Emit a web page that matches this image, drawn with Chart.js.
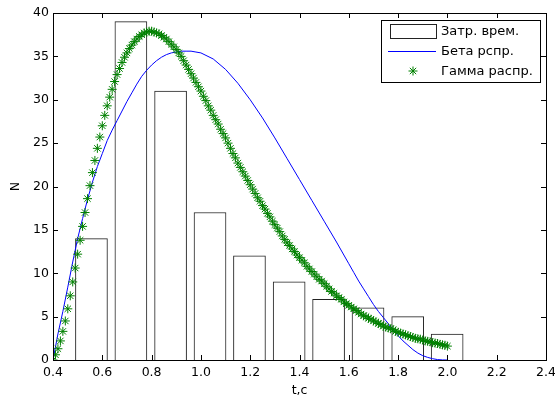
<!DOCTYPE html>
<html><head><meta charset="utf-8">
<style>html,body{margin:0;padding:0;background:#fff;}#c{display:block;}</style>
<script src="https://cdn.jsdelivr.net/npm/chart.js@4.4.1/dist/chart.umd.min.js"></script>
</head><body>
<canvas id="c" width="555" height="399"></canvas>
<script>
// ---- data ----
const binCenters = [0.556, 0.716, 0.877, 1.037, 1.197, 1.358, 1.518, 1.678, 1.839, 1.999];
const binCounts  = [14, 39, 31, 17, 12, 9, 7, 6, 5, 3];

const betaX = [0.40,0.42,0.44,0.46,0.48,0.50,0.52,0.54,0.56,0.58,0.60,0.62,0.64,0.66,0.68,0.70,0.72,0.74,0.76,0.78,
  0.80,0.82,0.84,0.86,0.88,0.90,0.92,0.94,0.96,0.98,1.00,1.05,1.10,1.15,1.20,1.25,1.30,1.35,1.40,1.45,
  1.50,1.55,1.60,1.62,1.64,1.66,1.68,1.70,1.72,1.74,1.76,1.78,1.80,1.82,1.84,1.86,1.88,1.90,1.92,1.94,1.96,1.98,2.00];
const betaY = [0,3.0,5.6,8.4,11.3,14.0,16.3,18.5,20.5,22.3,23.8,25.3,26.5,27.6,28.7,29.8,30.8,31.8,32.7,33.4,
  34.0,34.5,34.9,35.2,35.4,35.5,35.6,35.6,35.6,35.5,35.4,34.7,33.5,31.9,30.0,27.9,25.6,23.2,20.8,18.4,
  16.0,13.6,11.1,10.1,9.1,8.2,7.3,6.4,5.6,4.9,4.2,3.5,2.8,2.2,1.7,1.2,0.8,0.5,0.3,0.15,0.05,0.01,0];

const gammaX = [0.40,0.41,0.42,0.43,0.44,0.45,0.46,0.47,0.48,0.49,
  0.50,0.51,0.52,0.53,0.54,0.55,0.56,0.57,0.58,0.59,
  0.60,0.61,0.62,0.63,0.64,0.65,0.66,0.67,0.68,0.69,
  0.70,0.71,0.72,0.73,0.74,0.75,0.76,0.77,0.78,0.79,
  0.80,0.81,0.82,0.83,0.84,0.85,0.86,0.87,0.88,0.89,
  0.90,0.91,0.92,0.93,0.94,0.95,0.96,0.97,0.98,0.99,
  1.00,1.01,1.02,1.03,1.04,1.05,1.06,1.07,1.08,1.09,
  1.10,1.11,1.12,1.13,1.14,1.15,1.16,1.17,1.18,1.19,
  1.20,1.21,1.22,1.23,1.24,1.25,1.26,1.27,1.28,1.29,
  1.30,1.31,1.32,1.33,1.34,1.35,1.36,1.37,1.38,1.39,
  1.40,1.41,1.42,1.43,1.44,1.45,1.46,1.47,1.48,1.49,
  1.50,1.51,1.52,1.53,1.54,1.55,1.56,1.57,1.58,1.59,
  1.60,1.61,1.62,1.63,1.64,1.65,1.66,1.67,1.68,1.69,
  1.70,1.71,1.72,1.73,1.74,1.75,1.76,1.77,1.78,1.79,
  1.80,1.81,1.82,1.83,1.84,1.85,1.86,1.87,1.88,1.89,
  1.90,1.91,1.92,1.93,1.94,1.95,1.96,1.97,1.98,1.99,
  2.00];
const gammaY = [0.0,0.6,1.3,2.2,3.3,4.5,5.9,7.4,9.0,10.6,
  12.2,13.8,15.4,17.0,18.6,20.1,21.6,23.0,24.4,25.7,
  27.0,28.2,29.3,30.3,31.2,32.1,32.9,33.6,34.3,34.9,
  35.4,35.9,36.3,36.7,37.0,37.3,37.5,37.7,37.8,37.9,
  37.9,37.8,37.7,37.6,37.4,37.2,37.0,36.7,36.4,36.1,
  35.8,35.4,35.0,34.5,34.0,33.5,33.0,32.5,32.0,31.5,
  31.0,30.4,29.9,29.3,28.8,28.2,27.7,27.2,26.6,26.1,
  25.6,25.0,24.4,23.8,23.3,22.7,22.2,21.7,21.2,20.7,
  20.2,19.7,19.2,18.7,18.3,17.8,17.4,16.9,16.5,16.0,
  15.6,15.2,14.8,14.3,13.9,13.5,13.2,12.8,12.5,12.1,
  11.8,11.5,11.2,10.8,10.5,10.2,9.9,9.6,9.3,9.1,
  8.8,8.5,8.2,7.9,7.7,7.4,7.2,7.0,6.7,6.5,
  6.3,6.1,5.9,5.7,5.5,5.3,5.1,5.0,4.8,4.7,
  4.5,4.4,4.2,4.1,3.9,3.8,3.7,3.6,3.5,3.3,
  3.2,3.1,3.0,2.9,2.8,2.7,2.6,2.5,2.45,2.4,
  2.3,2.2,2.15,2.1,2.0,1.95,1.9,1.8,1.75,1.7,
  1.6];

const xTicks = [0.4, 0.6, 0.8, 1, 1.2, 1.4, 1.6, 1.8, 2, 2.2, 2.4];
const yTicks = [0, 5, 10, 15, 20, 25, 30, 35, 40];
const seriesLabels = ['Затр. врем.', 'Бета рспр.', 'Гамма распр.'];
const axisTitles = { x: 't,c', y: 'N' };

// ---- chart ----
const FAMILY = '"DejaVu Sans", Arial, sans-serif';
const FONT = { family: FAMILY, size: 12.5 };
const LEGEND_FONT = { family: FAMILY, size: 13 };
const STAR_R = 4.5;

function zip(xs, ys) { return xs.map((x, i) => ({ x: x, y: ys[i] })); }

function drawStar(ctx, x, y, r) {
  ctx.beginPath();
  ctx.moveTo(x - r, y); ctx.lineTo(x + r, y);
  ctx.moveTo(x, y - r); ctx.lineTo(x, y + r);
  const d = r * Math.SQRT1_2;
  ctx.moveTo(x - d, y - d); ctx.lineTo(x + d, y + d);
  ctx.moveTo(x - d, y + d); ctx.lineTo(x + d, y - d);
  ctx.stroke();
}

const matlabFrame = {
  id: 'matlabFrame',
  afterDatasetsDraw(chart) {
    const ctx = chart.ctx, ca = chart.chartArea;
    const xs = chart.scales.x, ys = chart.scales.y;
    ctx.save();
    ctx.strokeStyle = '#000';
    ctx.lineWidth = 1;
    ctx.strokeRect(Math.round(ca.left) + 0.5, Math.round(ca.top) + 0.5,
      Math.round(ca.right - ca.left), Math.round(ca.bottom - ca.top));
    const L = 5;
    ctx.beginPath();
    xTicks.forEach(v => {
      const px = Math.round(xs.getPixelForValue(v)) + 0.5;
      ctx.moveTo(px, ca.bottom); ctx.lineTo(px, ca.bottom - L);
      ctx.moveTo(px, ca.top); ctx.lineTo(px, ca.top + L);
    });
    yTicks.forEach(v => {
      const py = Math.round(ys.getPixelForValue(v)) + 0.5;
      ctx.moveTo(ca.left, py); ctx.lineTo(ca.left + L, py);
      ctx.moveTo(ca.right, py); ctx.lineTo(ca.right - L, py);
    });
    ctx.stroke();
    ctx.restore();
  },
  afterDraw(chart) {
    const ctx = chart.ctx, ca = chart.chartArea;
    const ds = chart.data.datasets;
    const bw = 159, bh = 62;
    const bx = Math.round(ca.right) - 6 - bw, by = Math.round(ca.top) + 7;
    ctx.save();
    ctx.fillStyle = '#fff';
    ctx.fillRect(bx, by, bw, bh);
    ctx.strokeStyle = '#000';
    ctx.lineWidth = 1;
    ctx.strokeRect(bx + 0.5, by + 0.5, bw, bh);
    const sx0 = bx + 9, sx1 = bx + 55, tx = bx + 60;
    const rows = [by + 11, by + 31, by + 51];
    // row 1: bar patch
    ctx.fillStyle = '#fff';
    ctx.fillRect(sx0, rows[0] - 7, sx1 - sx0, 14);
    ctx.strokeStyle = ds[0].borderColor;
    ctx.strokeRect(sx0 + 0.5, rows[0] - 7 + 0.5, sx1 - sx0, 14);
    // row 2: line
    ctx.strokeStyle = ds[1].borderColor;
    ctx.beginPath();
    ctx.moveTo(sx0 - 2, rows[1] + 0.5); ctx.lineTo(sx1, rows[1] + 0.5);
    ctx.stroke();
    // row 3: star marker
    ctx.strokeStyle = ds[2].borderColor;
    drawStar(ctx, (sx0 + sx1) / 2, rows[2], STAR_R);
    // texts
    ctx.fillStyle = '#000';
    ctx.font = LEGEND_FONT.size + 'px ' + LEGEND_FONT.family;
    ctx.textBaseline = 'middle';
    ctx.textAlign = 'left';
    ds.forEach((d, i) => ctx.fillText(d.label, tx, rows[i] + 1));
    ctx.restore();
  }
};

new Chart(document.getElementById('c'), {
  type: 'bar',
  data: {
    datasets: [
      {
        type: 'bar', label: seriesLabels[0], data: zip(binCenters, binCounts),
        backgroundColor: '#ffffff', borderColor: '#222222', borderWidth: 1,
        barThickness: 32, order: 3
      },
      {
        type: 'line', label: seriesLabels[1], data: zip(betaX, betaY),
        borderColor: '#0000ff', borderWidth: 1, pointRadius: 0, tension: 0,
        fill: false, order: 2
      },
      {
        type: 'line', label: seriesLabels[2], data: zip(gammaX, gammaY),
        showLine: false, pointStyle: 'star', pointRadius: STAR_R,
        borderColor: '#008000', backgroundColor: '#008000', pointBorderWidth: 1,
        order: 1
      }
    ]
  },
  options: {
    responsive: false,
    animation: false,
    devicePixelRatio: 1,
    layout: { padding: { left: 0, right: 9, top: 13, bottom: 0 } },
    plugins: { legend: { display: false }, tooltip: { enabled: false } },
    scales: {
      x: {
        type: 'linear', min: 0.4, max: 2.4, offset: false,
        grid: { display: false, drawTicks: false }, border: { display: false },
        afterBuildTicks: s => { s.ticks = xTicks.map(v => ({ value: v })); },
        ticks: { color: '#000', font: FONT, padding: 5, maxRotation: 0, autoSkip: false },
        title: { display: true, text: axisTitles.x, color: '#000', font: FONT, padding: { top: 0, bottom: 1 } },
        afterFit: s => { s.height = 39; s.paddingLeft = 0; s.paddingRight = 0; }
      },
      y: {
        type: 'linear', min: 0, max: 40,
        grid: { display: false, drawTicks: false }, border: { display: false },
        afterBuildTicks: s => { s.ticks = yTicks.map(v => ({ value: v })); },
        ticks: { color: '#000', font: FONT, padding: 4 },
        title: { display: true, text: axisTitles.y, color: '#000', font: FONT, padding: { top: 8, bottom: 8 } },
        afterFit: s => { s.width = 53; s.paddingTop = 0; s.paddingBottom = 0; }
      }
    }
  },
  plugins: [matlabFrame]
});
</script>
</body></html>
